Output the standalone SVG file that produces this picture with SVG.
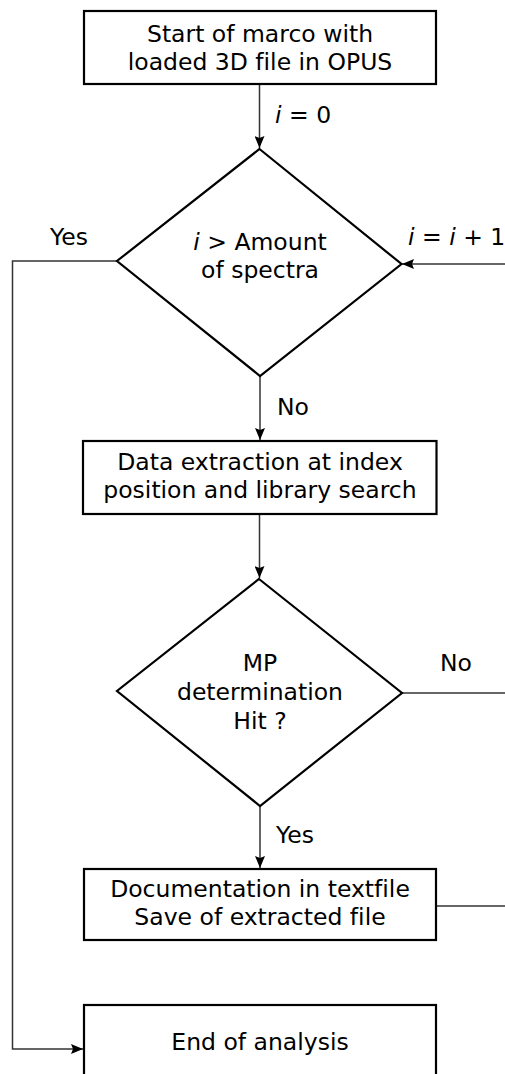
<svg xmlns="http://www.w3.org/2000/svg" width="505" height="1074" viewBox="0 0 505 1074">
<defs>
<marker id="arr" viewBox="0 0 12 10" refX="12" refY="5" markerWidth="12" markerHeight="10" markerUnits="userSpaceOnUse" orient="auto">
<path d="M0,0 L12,5 L0,10 L2,5 z" fill="#000"/>
</marker>
<style>
.box{fill:#fff;stroke:#000;stroke-width:2.2}
.con{fill:none;stroke:#333;stroke-width:1.5}
text{font-family:"DejaVu Sans","Verdana",sans-serif;font-size:23.5px;fill:#000;font-variant-ligatures:none}
.c{text-anchor:middle}
</style>
</defs>
<rect width="505" height="1074" fill="#fff"/>
<g id="connectors">
<line class="con" x1="259.5" y1="84" x2="259.5" y2="148" marker-end="url(#arr)"/>
<line class="con" x1="260" y1="376" x2="260" y2="440" marker-end="url(#arr)"/>
<line class="con" x1="259.5" y1="514" x2="259.5" y2="578" marker-end="url(#arr)"/>
<line class="con" x1="260" y1="806" x2="260" y2="868" marker-end="url(#arr)"/>
<line class="con" x1="505" y1="264" x2="402" y2="264" marker-end="url(#arr)"/>
<line class="con" x1="402" y1="693" x2="505" y2="693"/>
<line class="con" x1="436" y1="906" x2="505" y2="906"/>
<polyline class="con" points="117,261 12.5,261 12.5,1049 83,1049" marker-end="url(#arr)"/>
<text x="275" y="123"><tspan font-style="italic">i</tspan> = 0</text>
<text x="50" y="245">Yes</text>
<text x="408" y="245"><tspan font-style="italic">i</tspan> = <tspan font-style="italic">i</tspan> + 1</text>
<text x="277" y="415">No</text>
<text x="440" y="671">No</text>
<text x="276" y="843">Yes</text>
</g>
<g id="start">
<rect class="box" x="84" y="11" width="352" height="73"/>
<text class="c" x="260" y="42">Start of marco with</text>
<text class="c" x="260" y="70">loaded 3D file in OPUS</text>
</g>
<g id="decision1">
<polygon class="box" points="259.5,149 401.5,264 260,376 117,261"/>
<text class="c" x="260" y="250"><tspan font-style="italic">i</tspan> &gt; Amount</text>
<text class="c" x="260" y="278">of spectra</text>
</g>
<g id="extract">
<rect class="box" x="83" y="441" width="353.5" height="73"/>
<text class="c" x="260" y="470">Data extraction at index</text>
<text class="c" x="260" y="498">position and library search</text>
</g>
<g id="decision2">
<polygon class="box" points="259,579 402,693 260,806 117,691"/>
<text class="c" x="260" y="671">MP</text>
<text class="c" x="260" y="700">determination</text>
<text class="c" x="260" y="729">Hit ?</text>
</g>
<g id="document">
<rect class="box" x="84" y="869" width="352" height="71"/>
<text class="c" x="260" y="897">Documentation in textfile</text>
<text class="c" x="260" y="925">Save of extracted file</text>
</g>
<g id="end">
<rect class="box" x="84" y="1005" width="352" height="90"/>
<text class="c" x="260" y="1050">End of analysis</text>
</g>
</svg>
